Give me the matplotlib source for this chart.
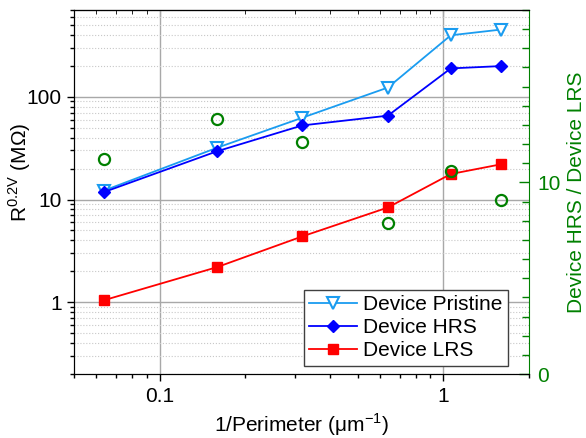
import matplotlib
matplotlib.use("Agg")
import matplotlib.pyplot as plt
from matplotlib.ticker import FuncFormatter, MultipleLocator, NullFormatter

plt.rcParams["font.family"] = ["Liberation Sans", "DejaVu Sans"]
plt.rcParams["mathtext.fontset"] = "custom"
plt.rcParams["mathtext.rm"] = "Liberation Sans"
plt.rcParams["font.size"] = 15

# 1/perimeter of the devices (um^-1)
inv_perimeter = [0.0637, 0.159, 0.318, 0.637, 1.061, 1.592]
# resistance at 0.2 V (MOhm)
r_pristine = [12.2, 31.8, 62.5, 123, 397, 451]
r_hrs = [11.8, 29.4, 52.6, 65.5, 189, 199]
r_lrs = [1.045, 2.19, 4.37, 8.36, 17.7, 22.0]
# HRS / LRS ratio (right axis)
ratio = [11.2, 13.3, 12.1, 7.9, 10.6, 9.1]

green = "#008000"
plain = FuncFormatter(lambda v, _: f"{v:g}")

fig = plt.figure(figsize=(5.86, 4.38), dpi=100)
ax = fig.add_axes([0.1263, 0.1461, 0.7764, 0.8311])

ax.plot(inv_perimeter, r_pristine, color="#1a9cf0", lw=1.3, marker="v",
        ms=8, mfc="white", mew=1.5, label="Device Pristine")
ax.plot(inv_perimeter, r_hrs, color="#0000ff", lw=1.3, marker="D",
        ms=6.5, label="Device HRS")
ax.plot(inv_perimeter, r_lrs, color="#ff0000", lw=1.3, marker="s",
        ms=6.5, label="Device LRS")

ax.set_xscale("log")
ax.set_yscale("log")
ax.set_xlim(0.05, 2)
ax.set_ylim(0.2, 700)
ax.xaxis.set_major_formatter(plain)
ax.yaxis.set_major_formatter(plain)
ax.xaxis.set_minor_formatter(NullFormatter())
ax.yaxis.set_minor_formatter(NullFormatter())

ax.set_axisbelow(True)
ax.grid(True, which="major", color="#a8a8a8", lw=1)
ax.grid(True, which="minor", axis="y", color="#c8c8c8", ls=":", lw=0.8)

ax.tick_params(which="both", direction="out", top=False, right=False, width=1)
ax.tick_params(which="major", length=5, pad=4)
ax.tick_params(which="minor", length=3)
ax.spines["right"].set_visible(False)

top = ax.secondary_xaxis("top")
top.tick_params(which="both", direction="in", labeltop=False)
top.tick_params(which="major", length=5)
top.tick_params(which="minor", length=3)
top.xaxis.set_major_formatter(NullFormatter())
top.xaxis.set_minor_formatter(NullFormatter())

ax.set_xlabel("1/Perimeter (μm$^{\\mathregular{-1}}$)")
ax.set_ylabel("R$^{\\mathregular{0.2V}}$ (MΩ)")
ax.yaxis.set_label_coords(-0.09, 0.554)

ax.legend(loc="lower right", bbox_to_anchor=(0.953, 0.023), fancybox=False,
          edgecolor="#404040", framealpha=1, handlelength=2.3,
          handletextpad=0.3, labelspacing=0.2, borderpad=0.25,
          borderaxespad=0)

ax2 = ax.twinx()
ax2.plot(inv_perimeter, ratio, ls="none", marker="o", ms=8, mfc="none",
         mec=green, mew=1.6)
ax2.set_ylim(0, 19)
ax2.yaxis.set_major_locator(MultipleLocator(10))
ax2.yaxis.set_minor_locator(MultipleLocator(1))
ax2.tick_params(which="both", direction="in", colors=green, width=1)
ax2.tick_params(which="major", length=7, pad=6)
ax2.tick_params(which="minor", length=5)
ax2.spines["right"].set_color(green)
ax2.set_ylabel("Device HRS / Device LRS", color=green)
ax2.yaxis.set_label_coords(1.083, 0.5)

fig.savefig("out.png", dpi=100)
